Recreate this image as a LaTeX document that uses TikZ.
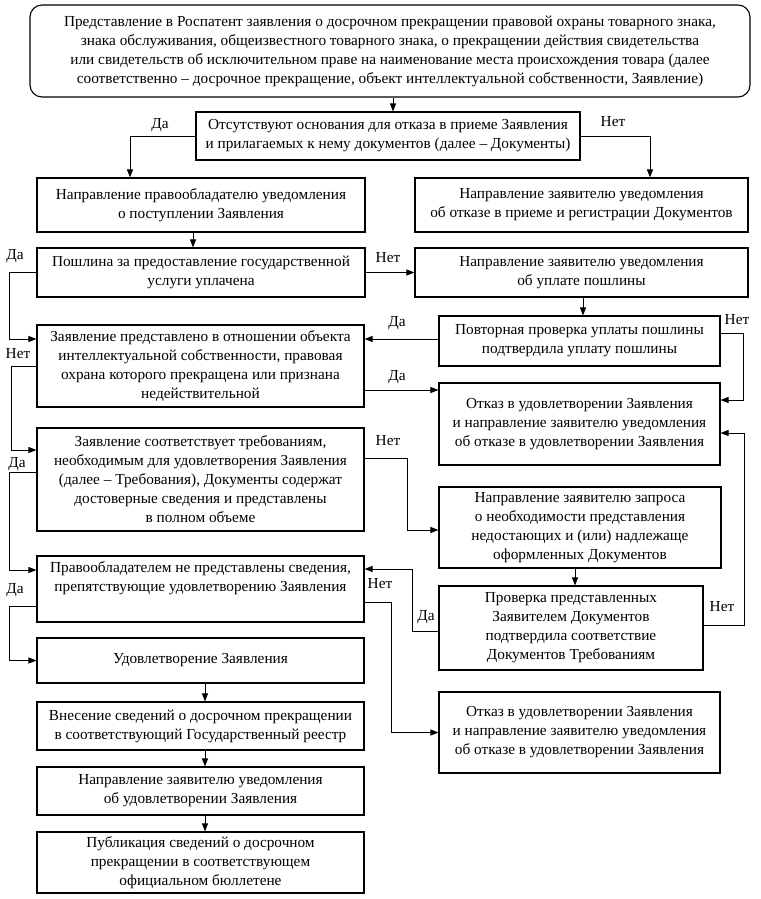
\documentclass[tikz,border=0pt]{standalone}
\usepackage{fontspec}
\setmainfont{Liberation Serif}
\usetikzlibrary{arrows.meta}
\tikzset{
  box/.style={draw, line width=1.1pt, inner sep=0pt, align=center,
    font=\fontsize{15.3}{19}\selectfont},
  arr/.style={line width=1pt, -{Triangle[length=8pt,width=6pt]}},
  lbl/.style={font=\fontsize{15.3}{19}\selectfont, inner sep=0pt}
}
\begin{document}
\begin{tikzpicture}[x=1pt,y=-1pt]
\useasboundingbox[fill=white] (0,0) rectangle (760,899);
\node[box, rounded corners=12pt, minimum width=720pt, minimum height=92pt] (A) at (390,51)
 {Представление в Роспатент заявления о досрочном прекращении правовой охраны товарного знака,\\
  знака обслуживания, общеизвестного товарного знака, о прекращении действия свидетельства\\
  или свидетельств об исключительном праве на наименование места происхождения товара (далее\\
  соответственно -- досрочное прекращение, объект интеллектуальной собственности, Заявление)};
\node[box, minimum width=384pt, minimum height=48pt] (B) at (388,136)
 {Отсутствуют основания для отказа в приеме Заявления\\ и прилагаемых к нему документов (далее -- Документы)};
\node[box, minimum width=328pt, minimum height=54pt] (C) at (201,205)
 {Направление правообладателю уведомления\\ о поступлении Заявления};
\node[box, minimum width=333pt, minimum height=54pt] (D) at (581.5,205)
 {Направление заявителю уведомления\\ об отказе в приеме и регистрации Документов};
\node[box, minimum width=328pt, minimum height=49pt] (E) at (201,272.5)
 {Пошлина за предоставление государственной\\ услуги уплачена};
\node[box, minimum width=333pt, minimum height=49pt] (F) at (581.5,272.5)
 {Направление заявителю уведомления\\ об уплате пошлины};
\node[box, minimum width=281pt, minimum height=50pt] (G) at (579.5,341)
 {Повторная проверка уплаты пошлины\\ подтвердила уплату пошлины};
\node[box, minimum width=327pt, minimum height=82pt] (H) at (200.5,366)
 {Заявление представлено в отношении объекта\\ интеллектуальной собственности, правовая\\ охрана которого прекращена или признана\\ недействительной};
\node[box, minimum width=281pt, minimum height=82pt] (I) at (579.5,424)
 {Отказ в удовлетворении Заявления\\ и направление заявителю уведомления\\ об отказе в удовлетворении Заявления};
\node[box, minimum width=327pt, minimum height=103pt] (J) at (200.5,479.5)
 {Заявление соответствует требованиям,\\ необходимым для удовлетворения Заявления\\ (далее -- Требования), Документы содержат\\ достоверные сведения и представлены\\ в полном объеме};
\node[box, minimum width=282pt, minimum height=81pt] (K) at (580,527.5)
 {Направление заявителю запроса\\ о необходимости представления\\ недостающих и (или) надлежаще\\ оформленных Документов};
\node[box, minimum width=327pt, minimum height=66pt] (L) at (200.5,589)
 {Правообладателем не представлены сведения,\\ препятствующие удовлетворению Заявления\\[6pt]};
\node[box, minimum width=264pt, minimum height=84pt] (M) at (571,628)
 {Проверка представленных\\ Заявителем Документов\\ подтвердила соответствие\\ Документов Требованиям};
\node[box, minimum width=327pt, minimum height=45pt] (N) at (200.5,660.5)
 {Удовлетворение Заявления};
\node[box, minimum width=281pt, minimum height=81pt] (O) at (579.5,732.5)
 {Отказ в удовлетворении Заявления\\ и направление заявителю уведомления\\ об отказе в удовлетворении Заявления};
\node[box, minimum width=327pt, minimum height=48pt] (P) at (200.5,726)
 {Внесение сведений о досрочном прекращении\\ в соответствующий Государственный реестр};
\node[box, minimum width=327pt, minimum height=48pt] (Q) at (200.5,791)
 {Направление заявителю уведомления\\ об удовлетворении Заявления};
\node[box, minimum width=327pt, minimum height=61pt] (R) at (200.5,862.5)
 {Публикация сведений о досрочном\\ прекращении в соответствующем\\ официальном бюллетене};

% connectors
\draw[arr] ([xshift=3pt]A.south) -- ([xshift=5pt]B.north);
\draw[arr] (B.west) -| ([xshift=-71pt]C.north);
\draw[arr] (B.east) -| ([xshift=68.5pt]D.north);
\draw[arr] ([xshift=-8pt]C.south) -- ([xshift=-8pt]E.north);
\draw[arr] (E.east) -- (F.west);
\draw[arr] (E.west) -- ++(-27,0) |- ([yshift=27pt]H.west);
\draw[arr] ([xshift=1.5pt]F.south) -- ([xshift=3.5pt]G.north);
\draw[arr] ([yshift=2pt]G.west) -- ([yshift=2pt]G.west -| H.east);
\draw[arr] ([yshift=8pt]G.east) -- ++(23,0) |- ([yshift=24pt]I.east);
\draw[arr] (H.west) -- ++(-25,0) |- ([yshift=29.5pt]J.west);
\draw[arr] ([yshift=-24pt]H.east) -- ([yshift=-24pt]H.east -| I.west);
\draw[arr] ([yshift=21.5pt]J.east) -- ++(43,0) |- ([yshift=-2.5pt]K.west);
\draw[arr] ([yshift=7.5pt]J.west) -- ++(-27,0) |- ([yshift=19pt]L.west);
\draw[arr] ([xshift=-5pt]K.south) -- ([xshift=-5pt]K.south |- M.north);
\draw[arr] ([yshift=-3pt]M.west) -- ++(-26,0) |- ([yshift=20pt]L.east);
\draw[arr] ([yshift=-13pt]L.east) -- ++(27,0) |- (O.west);
\draw[arr] ([yshift=3pt]M.east) -- ++(41,0) |- ([yshift=-9pt]I.east);
\draw[arr] ([yshift=-17pt]L.west) -- ++(-27,0) |- (N.west);
\draw[arr] ([xshift=4.5pt]N.south) -- ([xshift=4.5pt]P.north);
\draw[arr] ([xshift=4.5pt]P.south) -- ([xshift=4.5pt]Q.north);
\draw[arr] ([xshift=4.5pt]Q.south) -- ([xshift=4.5pt]R.north);

% labels
\node[lbl] (l1) at (160,125) {Да};
\node[lbl] (l2) at (613,122) {Нет};
\node[lbl] (l3) at (388,258) {Нет};
\node[lbl] (l4) at (15,256) {Да};
\node[lbl] (l5) at (397,323) {Да};
\node[lbl] (l6) at (737,320) {Нет};
\node[lbl] (l7) at (18,354) {Нет};
\node[lbl] (l8) at (397,377) {Да};
\node[lbl] (l9) at (388,441) {Нет};
\node[lbl] (l10) at (17,464) {Да};
\node[lbl] (l11) at (426,617) {Да};
\node[lbl] (l12) at (380,584) {Нет};
\node[lbl] (l13) at (722,607) {Нет};
\node[lbl] (l14) at (15,590) {Да};
\end{tikzpicture}
\end{document}
